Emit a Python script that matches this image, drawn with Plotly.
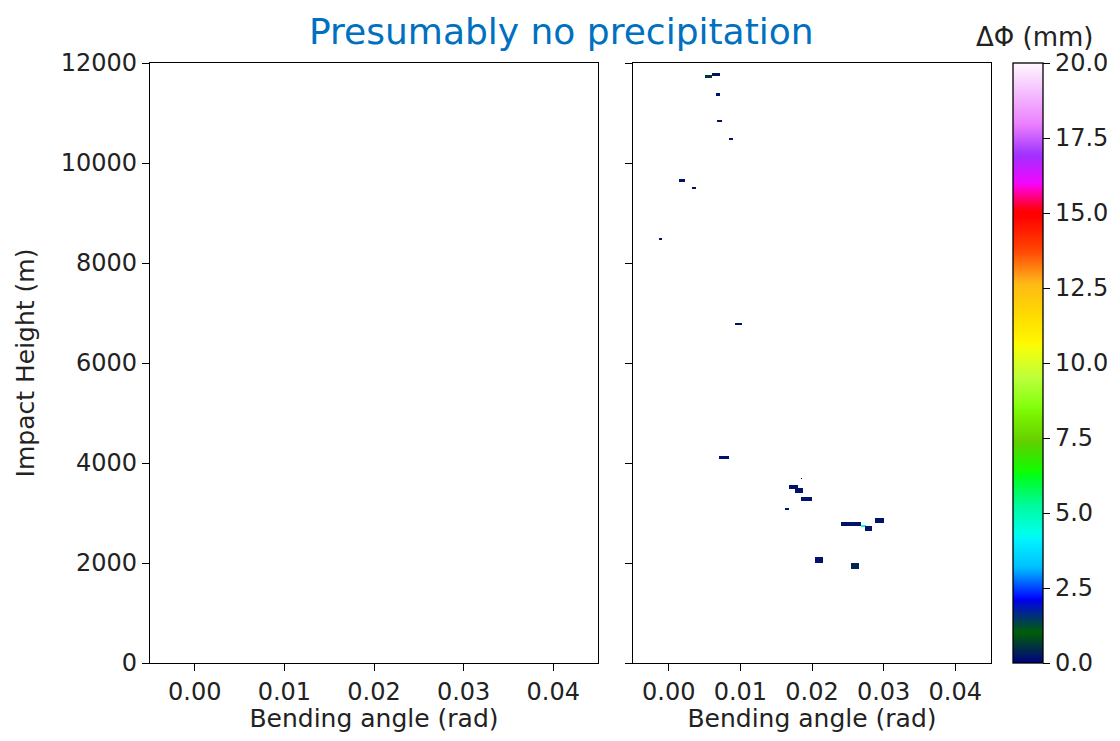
import numpy as np
import plotly.graph_objects as go

# ---------------- data ----------------
title_text = "Presumably no precipitation"
x_label = "Bending angle (rad)"
y_label = "Impact Height (m)"
cbar_label = "ΔΦ (mm)"
x_ticks = [0.00, 0.01, 0.02, 0.03, 0.04]
x_ticklabels = ["0.00", "0.01", "0.02", "0.03", "0.04"]
y_ticks = [0, 2000, 4000, 6000, 8000, 10000, 12000]
c_ticks = [0.0, 2.5, 5.0, 7.5, 10.0, 12.5, 15.0, 17.5, 20.0]

# blobs of non-missing ΔΦ in the right panel (bending angle range, height range, value)
blob_x0 = [0.0050, 0.0059, 0.0065, 0.0068, 0.0083, 0.0014, 0.0032, -0.0014, 0.0092, 0.0070,
           0.0183, 0.0167, 0.0176, 0.0183, 0.0161, 0.0239, 0.0268, 0.0273, 0.0287, 0.0203, 0.0254]
blob_x1 = [0.0060, 0.0071, 0.0071, 0.0073, 0.0089, 0.0022, 0.0037, -0.0011, 0.0102, 0.0083,
           0.0185, 0.0179, 0.0188, 0.0199, 0.0167, 0.0267, 0.0276, 0.0284, 0.0300, 0.0215, 0.0265]
blob_y0 = [11700, 11740, 11340, 10820, 10460, 9630, 9480, 8460, 6760, 4080,
           3680, 3480, 3410, 3250, 3060, 2750, 2715, 2650, 2800, 2010, 1890]
blob_y1 = [11766, 11806, 11400, 10860, 10500, 9670, 9520, 8500, 6800, 4140,
           3700, 3560, 3490, 3320, 3100, 2820, 2760, 2740, 2900, 2110, 1990]
blob_val = [0.6, 0.2, 0.2, 0.2, 0.2, 0.2, 0.2, 0.2, 0.2, 0.2,
            0.2, 0.2, 0.2, 0.2, 0.2, 0.2, 4.5, 0.2, 0.2, 0.2, 0.4]

x_range = [-0.005, 0.045]
y_range = [0, 12000]
z_range = [0, 20]

# ---------------- gist_ncar-like colormap ----------------
_r = [(0.0, 0.0), (0.3098, 0.0), (0.3725, 0.3993), (0.4235, 0.5003), (0.5333, 1.0),
      (0.7922, 1.0), (0.8471, 0.6218), (0.8980, 0.9235), (1.0, 0.9961)]
_g = [(0.0, 0.0), (0.0510, 0.3722), (0.1059, 0.0), (0.1569, 0.7202), (0.1608, 0.7537),
      (0.1647, 0.7752), (0.2157, 1.0), (0.2588, 0.9804), (0.2706, 0.9804), (0.3176, 1.0),
      (0.3686, 0.8081), (0.4275, 1.0), (0.5216, 1.0), (0.6314, 0.7292), (0.6863, 0.2796),
      (0.7451, 0.0), (0.7922, 0.0), (0.8431, 0.1753), (0.8980, 0.5), (1.0, 0.9725)]
_b = [(0.0, 0.5020), (0.0510, 0.0222), (0.1098, 1.0), (0.2039, 1.0), (0.2627, 0.6145),
      (0.3216, 0.0), (0.4157, 0.0), (0.4745, 0.2342), (0.5333, 0.0), (0.5804, 0.0),
      (0.6392, 0.0969), (0.6980, 0.0), (0.7529, 0.0), (0.8000, 1.0), (0.8471, 1.0),
      (0.8980, 1.0), (1.0, 0.9961)]


def _interp(seg, t):
    xs = [p[0] for p in seg]
    ys = [p[1] for p in seg]
    return float(np.interp(t, xs, ys))


stops = np.linspace(0, 1, 201)
colorscale = []
for t in stops:
    r, g, b = (_interp(_r, t), _interp(_g, t), _interp(_b, t))
    colorscale.append([float(t), f"rgb({int(round(r*255))},{int(round(g*255))},{int(round(b*255))})"])

# ---------------- grid ----------------
dx, dy = 0.0002, 20
xc = np.arange(x_range[0] + dx / 2, x_range[1], dx)
yc = np.arange(y_range[0] + dy / 2, y_range[1], dy)
Z = np.full((len(yc), len(xc)), np.nan)
for x0, x1, y0, y1, v in zip(blob_x0, blob_x1, blob_y0, blob_y1, blob_val):
    ix = np.where((xc >= x0) & (xc <= x1))[0]
    iy = np.where((yc >= y0) & (yc <= y1))[0]
    if len(ix) == 0:
        ix = [int(np.argmin(np.abs(xc - (x0 + x1) / 2)))]
    if len(iy) == 0:
        iy = [int(np.argmin(np.abs(yc - (y0 + y1) / 2)))]
    for j in iy:
        for i in ix:
            Z[j, i] = v

z_list = [[None if np.isnan(v) else float(v) for v in row] for row in Z]

# ---------------- layout geometry (pixels, page coords minus body margin) ----------------
OFF = 8                                  # default html body margin
W, H = 1120 - 2 * OFF, 741 - 2 * OFF
L, R, T, B = 150 - OFF, 991 - OFF, 63 - OFF, 663 - OFF
PW, PH = R - L, B - T


def fx(px):
    return (px - OFF - L) / PW


def fy(py):
    return (B - (py - OFF)) / PH


fig = go.Figure()

fig.add_trace(go.Scatter(x=[None], y=[None], xaxis="x", yaxis="y", showlegend=False, hoverinfo="skip"))

TICKFONT = dict(family="DejaVu Sans", size=24, color="#222")
TITLEFONT = dict(family="DejaVu Sans", size=25, color="#222")

fig.add_trace(go.Heatmap(
    x=xc.tolist(), y=yc.tolist(), z=z_list, xaxis="x2", yaxis="y2",
    colorscale=colorscale, zmin=z_range[0], zmax=z_range[1], zsmooth=False,
    colorbar=dict(
        x=fx(1013), xanchor="left", xref="paper",
        y=0, yanchor="bottom", yref="paper",
        len=1, lenmode="fraction",
        thickness=30, thicknessmode="pixels",
        outlinecolor="black", outlinewidth=1.3,
        tickvals=c_ticks, ticktext=[f"{v:.1f}" for v in c_ticks],
        ticks="outside", ticklen=7, tickcolor="black", tickwidth=1.3,
        tickfont=TICKFONT,
        xpad=0, ypad=0,
        title=dict(text=""),
    ),
))

axis_common = dict(
    showline=True, linecolor="black", linewidth=1.3, mirror=True,
    ticks="outside", ticklen=7, tickcolor="black", tickwidth=1.3,
    showgrid=False, zeroline=False, automargin=False,
    tickfont=TICKFONT,
)

fig.update_layout(
    width=W, height=H,
    margin=dict(l=L, r=W - R, t=T, b=H - B, autoexpand=False),
    paper_bgcolor="white", plot_bgcolor="white",
    xaxis=dict(domain=[0, fx(598)], range=x_range, tickvals=x_ticks, ticktext=x_ticklabels,
               title=dict(text=x_label, font=TITLEFONT, standoff=10),
               anchor="y", **axis_common),
    yaxis=dict(domain=[0, 1], range=y_range, tickvals=y_ticks, ticktext=[str(v) for v in y_ticks],
               title=dict(text=y_label, font=TITLEFONT, standoff=18),
               anchor="x", **axis_common),
    xaxis2=dict(domain=[fx(633), 1], range=x_range, tickvals=x_ticks, ticktext=x_ticklabels,
                title=dict(text=x_label, font=TITLEFONT, standoff=10),
                anchor="y2", **axis_common),
    yaxis2=dict(domain=[0, 1], range=y_range, tickvals=y_ticks, showticklabels=False,
                anchor="x2", **axis_common),
    annotations=[
        dict(text=title_text, x=fx(561), y=fy(8.5), xref="paper", yref="paper",
             xanchor="center", yanchor="top", showarrow=False,
             font=dict(family="DejaVu Sans", size=36, color="#0070C0")),
        dict(text=cbar_label, x=fx(1034), y=fy(37), xref="paper", yref="paper",
             xanchor="center", yanchor="middle", showarrow=False,
             font=dict(family="DejaVu Sans", size=26, color="#222")),
    ],
)

fig.write_html("out.html")
